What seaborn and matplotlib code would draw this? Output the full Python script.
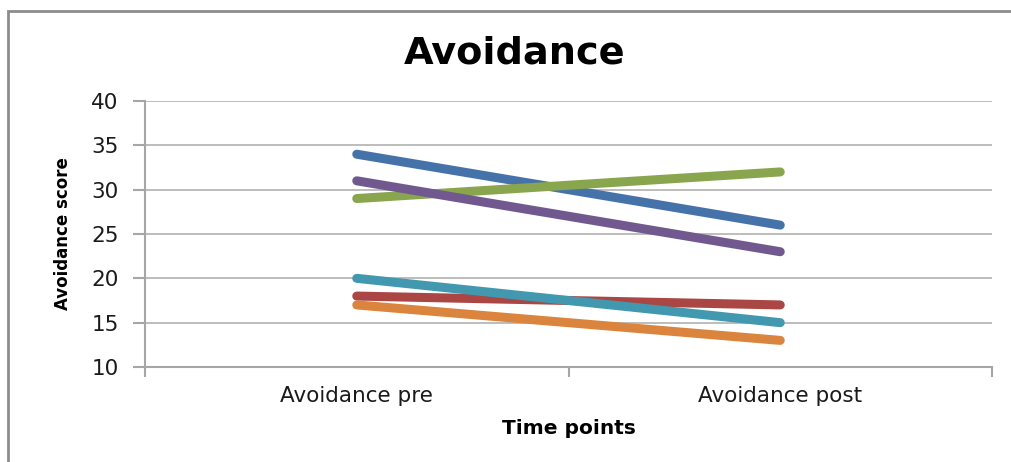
import matplotlib
matplotlib.use("Agg")
import matplotlib.pyplot as plt
from matplotlib.patches import Rectangle
import seaborn as sns
import pandas as pd

# Scores at the two time points, one list per participant
time_points = ["Avoidance pre", "Avoidance post"]
participant_1 = [34, 26]
participant_2 = [18, 17]
participant_3 = [29, 32]
participant_4 = [31, 23]
participant_5 = [20, 15]
participant_6 = [17, 13]

series_names = ["P1", "P2", "P3", "P4", "P5", "P6"]
series_values = [participant_1, participant_2, participant_3,
                 participant_4, participant_5, participant_6]
series_colors = ["#4672AA", "#AA4643", "#89A54E", "#71588F", "#4198AF", "#DB843D"]

y_ticks = [10, 15, 20, 25, 30, 35, 40]

rows = []
for name, vals in zip(series_names, series_values):
    for tp, v in zip(time_points, vals):
        rows.append({"participant": name, "time": tp, "score": v})
df = pd.DataFrame(rows)

sns.set_theme(style="white")
plt.rcParams["font.family"] = ["DejaVu Sans"]

fig = plt.figure(figsize=(10.11, 4.62), dpi=100)
ax = fig.add_axes([145 / 1011, 1 - 367 / 462, (992 - 145) / 1011, (367 - 101) / 462])

# Chart-area frame (top and left edges visible within the canvas)
fig.patches.append(Rectangle((8 / 1011, -0.5), 2.0, 1 - 11 / 462 + 0.5,
                             transform=fig.transFigure, fill=False,
                             edgecolor="#8C8C8C", linewidth=2.0, zorder=0))

sns.lineplot(data=df, x="time", y="score", hue="participant",
             palette=series_colors, linewidth=6.5, legend=False,
             sort=False, ax=ax)
for line in ax.lines:
    line.set_solid_capstyle("round")

ax.set_xlim(-0.5, 1.5)
ax.set_ylim(10, 40)
ax.set_yticks(y_ticks)
ax.yaxis.grid(True, color="#ABABAB", linewidth=1.1)
ax.set_axisbelow(True)

for side in ["top", "right"]:
    ax.spines[side].set_visible(False)
for side in ["left", "bottom"]:
    ax.spines[side].set_color("#A6A6A6")
    ax.spines[side].set_linewidth(1.5)

ax.set_xticks([0, 1])
ax.set_xticklabels(time_points)
ax.set_xticks([-0.5, 0.5, 1.5], minor=True)
ax.tick_params(axis="x", which="major", length=0, pad=14, labelsize=15.5,
               labelcolor="#1A1A1A")
ax.tick_params(axis="x", which="minor", length=7, width=1.5, color="#A6A6A6",
               direction="out", bottom=True)
ax.tick_params(axis="y", length=9, width=1.5, color="#A6A6A6", direction="out",
               left=True, pad=10, labelsize=15.5, labelcolor="#1A1A1A")

ax.set_xlabel("Time points", fontsize=14.5, fontweight="bold", labelpad=9,
              color="#000000")
ax.set_ylabel("Avoidance score", fontsize=12, fontweight="bold",
              labelpad=14, color="#000000")
fig.text(515 / 1011, 1 - 53 / 462, "Avoidance", ha="center", va="center",
         fontsize=27.5, fontweight="bold", color="#000000")

fig.savefig("out.png", dpi=100, facecolor="white")
